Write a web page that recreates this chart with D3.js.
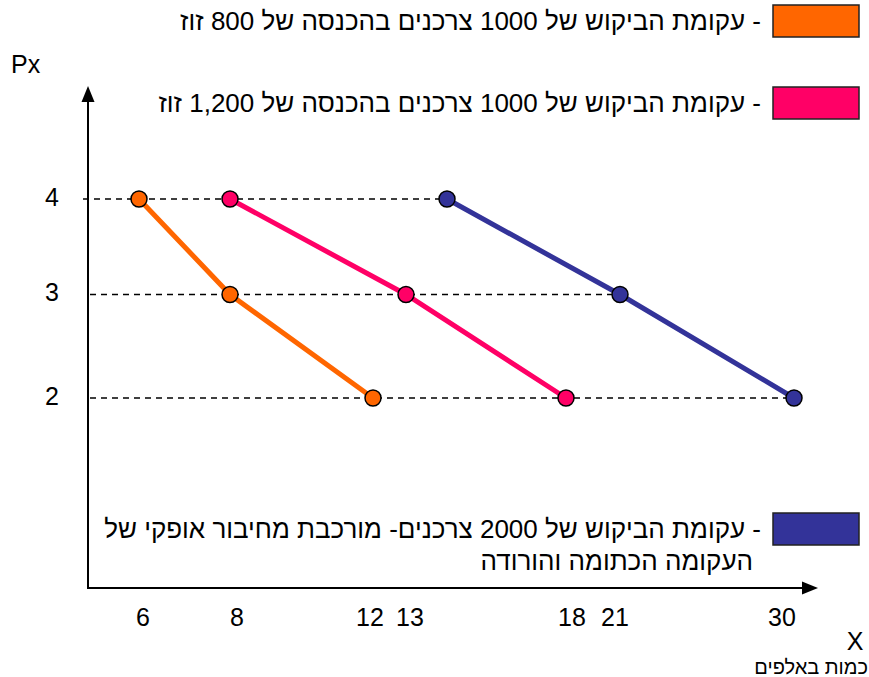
<!DOCTYPE html>
<html>
<head>
<meta charset="utf-8">
<script src="https://cdn.jsdelivr.net/npm/d3@7"></script>
<style>
  html, body { margin: 0; padding: 0; background: #fff; }
  svg { display: block; font-family: "Liberation Sans", Arial, sans-serif; }
</style>
</head>
<body>
<svg id="chart" width="869" height="677"></svg>
<script>
// ---- data ----
const prices = [4, 3, 2];
const xTicks = [6, 8, 12, 13, 18, 21, 30];
const yTicks = [4, 3, 2];
const orangeQty = [6, 8, 12];    // 800 income, 1000 consumers
const pinkQty   = [8, 13, 18];   // 1,200 income, 1000 consumers
const blueQty   = [14, 21, 30];  // 2000 consumers (horizontal sum)
const seriesNames = ["orange", "pink", "blue"];
const seriesColors = ["#FF6600", "#FF0066", "#333399"];
const legendLines = [
  ["- עקומת הביקוש של 1000 צרכנים בהכנסה של 800 זוז"],
  ["- עקומת הביקוש של 1000 צרכנים בהכנסה של 1,200 זוז"],
  ["- עקומת הביקוש של 2000 צרכנים- מורכבת מחיבור אופקי של", "העקומה הכתומה והורודה"]
];
const yAxisTitle = "Px";
const xAxisTitle = "X";
const xAxisSub = "כמות באלפים";

// ---- scales (hand-drawn, non-uniform spacing) ----
const x = d3.scaleLinear()
  .domain([6, 8, 12, 13, 14, 18, 21, 30])
  .range([139, 230, 373, 406, 447, 566, 620, 794]);
const xLabel = d3.scaleLinear()
  .domain(xTicks)
  .range([143, 237, 370, 410, 572, 615, 782]);
const y = d3.scaleLinear().domain([2, 3, 4]).range([398, 294.5, 199]);

const svg = d3.select("#chart");
const series = [orangeQty, pinkQty, blueQty].map((q, i) => ({
  name: seriesNames[i], color: seriesColors[i],
  pts: q.map((v, j) => ({ q: v, p: prices[j] }))
}));

// dashed guide lines from axis to the rightmost point at each price
const axisX = 88, axisY = 588;
prices.forEach((p, j) => {
  const maxQ = d3.max(series, s => s.pts[j].q);
  svg.append("line")
    .attr("x1", p === 4 ? axisX - 5 : axisX + 2).attr("x2", x(maxQ))
    .attr("y1", y(p)).attr("y2", y(p))
    .attr("stroke", "#000").attr("stroke-width", 1.5)
    .attr("stroke-dasharray", "6,5");
});

// axes
svg.append("line").attr("x1", axisX).attr("y1", axisY).attr("x2", axisX).attr("y2", 100)
  .attr("stroke", "#000").attr("stroke-width", 2);
svg.append("path").attr("d", `M${axisX},86 L${axisX-6.5},102 L${axisX+6.5},102 Z`).attr("fill", "#000");
svg.append("line").attr("x1", axisX - 1).attr("y1", axisY).attr("x2", 805).attr("y2", axisY)
  .attr("stroke", "#000").attr("stroke-width", 2);
svg.append("path").attr("d", `M818,${axisY} L802,${axisY-6.5} L802,${axisY+6.5} Z`).attr("fill", "#000");

// tick labels
svg.selectAll(".yt").data(yTicks).enter().append("text")
  .attr("x", 52).attr("y", d => y(d) - 2).attr("dy", "0.35em")
  .attr("text-anchor", "middle").attr("font-size", 25).text(d => d);
svg.selectAll(".xt").data(xTicks).enter().append("text")
  .attr("x", d => xLabel(d)).attr("y", 617).attr("dy", "0.35em")
  .attr("text-anchor", "middle").attr("font-size", 25).text(d => d);

svg.append("text").attr("x", 11).attr("y", 73).attr("font-size", 25).text(yAxisTitle);
svg.append("text").attr("x", 855).attr("y", 650).attr("text-anchor", "middle").attr("font-size", 25).text(xAxisTitle);
svg.append("text").attr("x", 868).attr("y", 674).attr("direction", "rtl").attr("text-anchor", "start")
  .attr("font-size", 20).text(xAxisSub);

// lines and points
const line = d3.line().x(d => x(d.q)).y(d => y(d.p));
series.forEach(s => {
  svg.append("path").datum(s.pts).attr("d", line)
    .attr("fill", "none").attr("stroke", s.color).attr("stroke-width", 5);
});
series.forEach(s => {
  svg.selectAll(null).data(s.pts).enter().append("circle")
    .attr("cx", d => x(d.q)).attr("cy", d => y(d.p)).attr("r", 8)
    .attr("fill", s.color).attr("stroke", "#000").attr("stroke-width", 1.5);
});

// legend
const legendTop = [5, 87, 513];
legendLines.forEach((lines, i) => {
  svg.append("rect").attr("x", 773).attr("y", legendTop[i]).attr("width", 86).attr("height", 32)
    .attr("fill", seriesColors[i]).attr("stroke", "#222").attr("stroke-width", 1.5);
  lines.forEach((t, k) => {
    svg.append("text")
      .attr("x", k === 0 ? 761 : 753).attr("y", legendTop[i] + 16 + k * 32).attr("dy", "0.35em")
      .attr("direction", "rtl").attr("text-anchor", "start").attr("font-size", 26)
      .text(t);
  });
});
</script>
</body>
</html>
